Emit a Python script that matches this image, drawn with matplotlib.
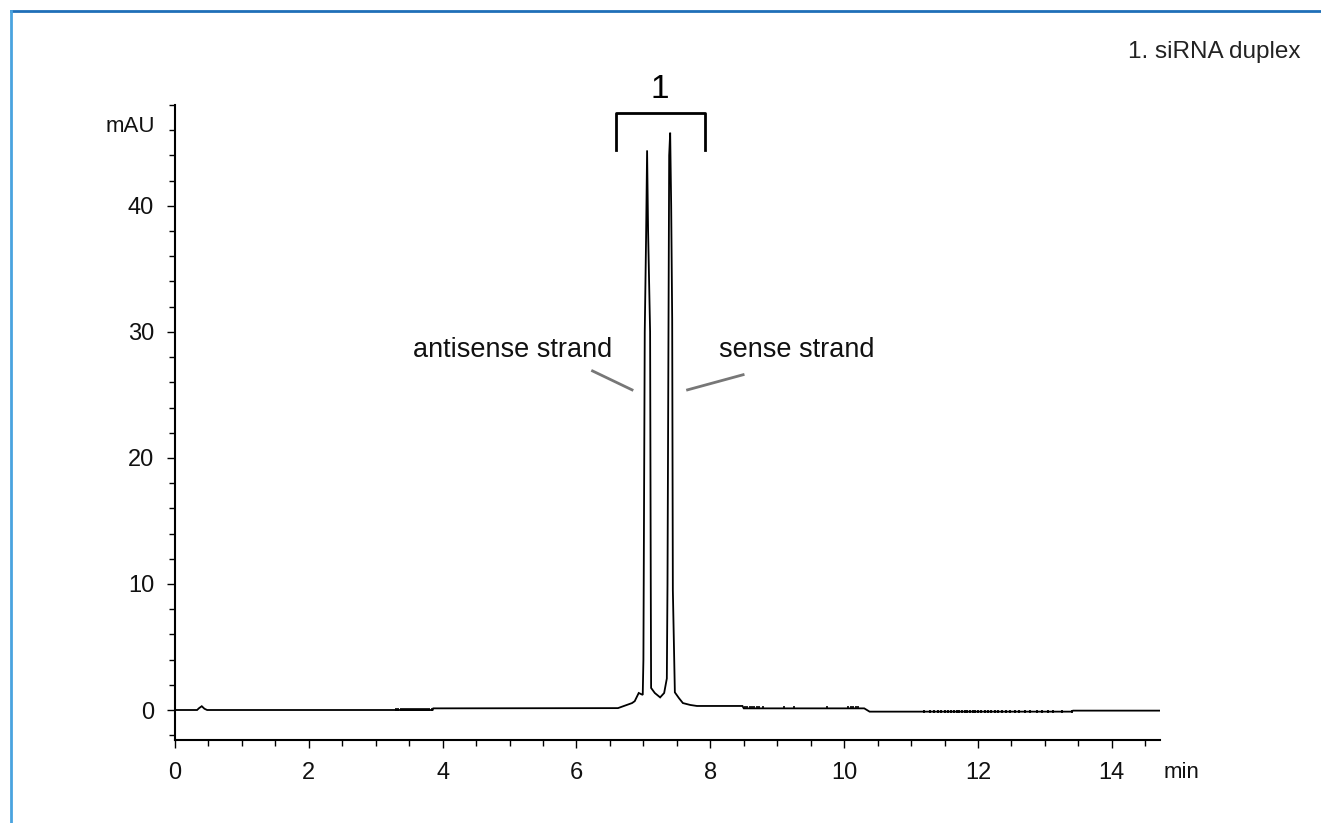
import numpy as np
import matplotlib.pyplot as plt
from matplotlib.lines import Line2D
from matplotlib.ticker import MultipleLocator

plt.rcParams['font.family'] = ['Liberation Sans', 'DejaVu Sans']

# chromatogram trace (min, mAU)
time = [0.00, 0.33, 0.36, 0.40, 0.44, 0.48,
        3.30, 3.85, 3.86,
        6.62, 6.83, 6.87, 6.93, 6.99, 7.00, 7.02, 7.04,
        7.055, 7.07, 7.10, 7.11, 7.115, 7.17, 7.25, 7.31,
        7.35, 7.36, 7.385, 7.40, 7.415, 7.43, 7.44, 7.47,
        7.53, 7.59, 7.70, 7.80, 8.48, 8.50,
        10.30, 10.38, 13.40, 13.42, 14.72]
signal = [0.00, 0.00, 0.15, 0.30, 0.10, 0.00,
          0.00, 0.00, 0.13,
          0.15, 0.55, 0.70, 1.35, 1.20, 4.00, 30.0, 37.5,
          44.4, 38.0, 30.0, 10.0, 1.75, 1.35, 1.00, 1.35,
          2.50, 10.0, 44.0, 45.8, 40.0, 31.0, 9.5, 1.40,
          0.95, 0.55, 0.40, 0.32, 0.32, 0.13,
          0.13, -0.13, -0.13, -0.05, -0.05]

# small detector noise spikes (min)
noise_a = [3.31, 3.34, 3.37, 3.40, 3.43, 3.46, 3.49, 3.52, 3.55, 3.58,
           3.61, 3.64, 3.67, 3.70, 3.73, 3.76, 3.79, 3.84]
noise_b = [8.52, 8.55, 8.60, 8.63, 8.66, 8.70, 8.72, 8.78, 9.10, 9.25,
           9.75, 10.05, 10.10, 10.13, 10.17, 10.20]
noise_c = [11.20, 11.28, 11.35, 11.40, 11.45, 11.50, 11.55, 11.60, 11.64,
           11.68, 11.72, 11.76, 11.80, 11.84, 11.88, 11.92, 11.96, 12.00,
           12.05, 12.10, 12.15, 12.20, 12.25, 12.30, 12.36, 12.42, 12.48,
           12.55, 12.62, 12.70, 12.78, 12.88, 12.95, 13.05, 13.12, 13.25, 13.40]

x_ticks = [0, 2, 4, 6, 8, 10, 12, 14]
y_ticks = [0, 10, 20, 30, 40]

fig = plt.figure(figsize=(13.21, 8.23), dpi=100)
ax = fig.add_axes([175/1321, 1 - 740/823, (1160-175)/1321, (740-105)/823])

ax.plot(time, signal, color='black', lw=1.3, solid_joinstyle='miter')
ax.vlines(noise_a, -0.05, 0.15, color='black', lw=1.2)
ax.vlines(noise_b, 0.13, 0.32, color='black', lw=1.2)
ax.vlines(noise_c, -0.25, -0.02, color='black', lw=1.3)

ax.set_xlim(0, 14.72)
ax.set_ylim(-2.38, 48.0)
ax.set_xticks(x_ticks)
ax.set_yticks(y_ticks)
ax.xaxis.set_minor_locator(MultipleLocator(0.5))
ax.yaxis.set_minor_locator(MultipleLocator(2))
ax.tick_params(which='major', length=6, width=1, labelsize=17, pad=10,
               labelcolor='#111111')
ax.tick_params(which='minor', length=4, width=1)
ax.tick_params(axis='y', which='major', pad=9)
for s in ['top', 'right']:
    ax.spines[s].set_visible(False)
for s in ['left', 'bottom']:
    ax.spines[s].set_linewidth(1.5)

fig.text(1164/1321, 1 - 773/823, 'min', fontsize=16, ha='left', va='center',
         color='#111111')
fig.text(155/1321, 1 - 127/823, 'mAU', fontsize=16, ha='right', va='center',
         color='#111111')
fig.text(1300/1321, 1 - 52/823, '1. siRNA duplex', fontsize=17.5, ha='right',
         va='center', color='#222222')

# bracket for peak 1
ax.plot([6.59, 6.59, 7.92, 7.92], [44.4, 47.4, 47.4, 44.4], color='black',
        lw=2, clip_on=False)
ax.text(7.25, 49.2, '1', fontsize=24, ha='center', va='center')

# strand labels with leader lines
ax.text(5.04, 28.6, 'antisense strand', fontsize=19.5, ha='center',
        va='center', color='#111111')
ax.text(9.29, 28.6, 'sense strand', fontsize=19.5, ha='center', va='center',
        color='#111111')
ax.plot([6.24, 6.83], [26.9, 25.4], color='#777777', lw=2)
ax.plot([7.66, 8.49], [25.4, 26.6], color='#777777', lw=2)

# blue frame
fig.add_artist(Line2D([11/1321, 1], [1 - 11/823, 1 - 11/823],
                      color='#1f6fb8', lw=2, transform=fig.transFigure))
fig.add_artist(Line2D([11/1321, 11/1321], [0, 1 - 11/823],
                      color='#4aa3df', lw=2, transform=fig.transFigure))

fig.savefig('out.png', dpi=100)
